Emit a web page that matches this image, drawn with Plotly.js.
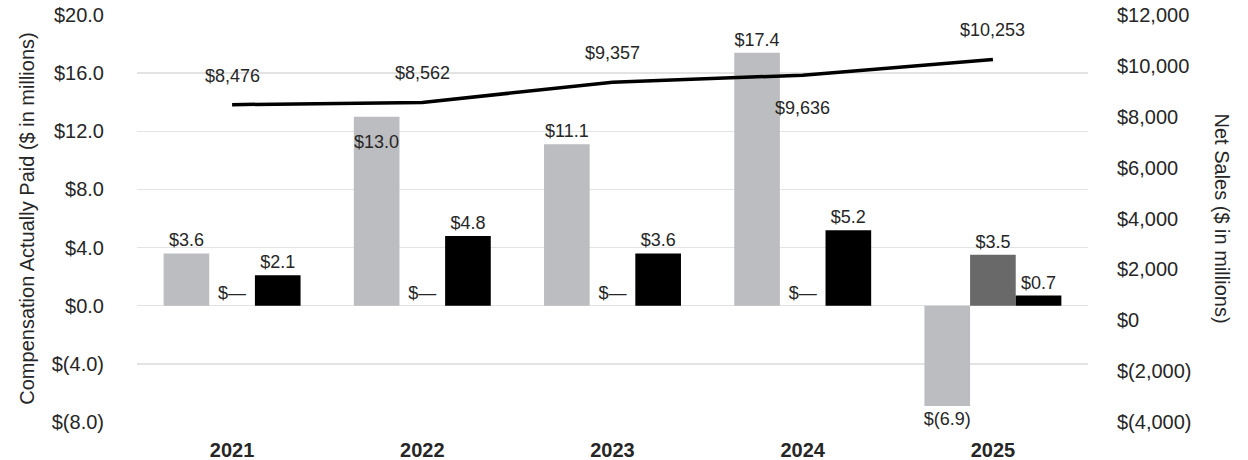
<!DOCTYPE html>
<html>
<head>
<meta charset="utf-8">
<script src="https://cdn.plot.ly/plotly-3.0.1.min.js"></script>
<style>html,body{margin:0;padding:0;background:#fff;}#chart{width:1248px;height:460px;}</style>
</head>
<body>
<div id="chart"></div>
<script>
var years = ['2021', '2022', '2023', '2024', '2025'];
var capPeo1 = [3.6, 13.0, 11.1, 17.4, -6.9];
var capPeo2 = [0, 0, 0, 0, 3.5];
var capNeo = [2.1, 4.8, 3.6, 5.2, 0.7];
var netSales = [8476, 8562, 9357, 9636, 10253];
var netSalesLabelSide = ['above', 'above', 'above', 'below', 'above'];
var peo1LabelInside = [false, true, false, false, false];
var leftTicks = [-8, -4, 0, 4, 8, 12, 16, 20];
var leftTickText = ['$(8.0)', '$(4.0)', '$0.0', '$4.0', '$8.0', '$12.0', '$16.0', '$20.0'];
var rightTicks = [-4000, -2000, 0, 2000, 4000, 6000, 8000, 10000, 12000];
var rightTickText = ['$(4,000)', '$(2,000)', '$0', '$2,000', '$4,000', '$6,000', '$8,000', '$10,000', '$12,000'];

function money(v) {
  if (v === 0) return '$\u2014';
  var s = Math.abs(v).toFixed(1);
  return v < 0 ? '$(' + s + ')' : '$' + s;
}
function salesFmt(v) {
  return '$' + v.toLocaleString('en-US');
}

var txtColor = '#262626';
var fontFam = '"Liberation Sans", Arial, sans-serif';
var labelFont = {family: fontFam, size: 18, color: txtColor};
var bargap = 0.28;
var nSeries = 3;
var barSlot = (1 - bargap) / nSeries;

var traces = [
  {
    type: 'bar', name: 'CAP - PEO 1', x: years, y: capPeo1,
    marker: {color: '#bcbdc0'},
    text: capPeo1.map(function (v, i) { return peo1LabelInside[i] ? '' : money(v); }),
    textposition: 'outside', textangle: 0, constraintext: 'none',
    textfont: labelFont, outsidetextfont: labelFont,
    cliponaxis: false, hoverinfo: 'skip'
  },
  {
    type: 'bar', name: 'CAP - PEO 2', x: years, y: capPeo2,
    marker: {color: '#696969'},
    text: capPeo2.map(money), textposition: 'outside', textangle: 0, constraintext: 'none',
    textfont: labelFont, outsidetextfont: labelFont,
    cliponaxis: false, hoverinfo: 'skip'
  },
  {
    type: 'bar', name: 'Average CAP - Non-PEO NEOs', x: years, y: capNeo,
    marker: {color: '#000000'},
    text: capNeo.map(money), textposition: 'outside', textangle: 0, constraintext: 'none',
    textfont: labelFont, outsidetextfont: labelFont,
    cliponaxis: false, hoverinfo: 'skip'
  },
  {
    type: 'scatter', mode: 'lines', name: 'Net Sales', x: years, y: netSales,
    yaxis: 'y2', line: {color: '#000000', width: 3.5}, hoverinfo: 'skip'
  }
];

var annotations = years.map(function (yr, i) {
  return {
    x: i, y: netSales[i], xref: 'x', yref: 'y2',
    text: salesFmt(netSales[i]), showarrow: false,
    yshift: netSalesLabelSide[i] === 'above' ? 29 : -33,
    font: labelFont
  };
});

// inside-end labels on the first PEO bars (placed a little lower than plotly's default padding)
capPeo1.forEach(function (v, i) {
  if (peo1LabelInside[i]) {
    annotations.push({
      x: i - barSlot, y: v, xref: 'x', yref: 'y',
      text: money(v), showarrow: false, yanchor: 'top', yshift: -13,
      font: labelFont
    });
  }
});

// right axis title reads top-to-bottom
annotations.push({
  xref: 'paper', yref: 'paper', x: 1, y: 0.5, xshift: 134,
  xanchor: 'center', yanchor: 'middle',
  text: 'Net Sales ($ in millions)', textangle: 90, showarrow: false,
  font: {family: fontFam, size: 20, color: txtColor}
});

var layout = {
  width: 1248, height: 460,
  margin: {l: 137, r: 160, t: 15, b: 38},
  paper_bgcolor: '#ffffff', plot_bgcolor: '#ffffff',
  showlegend: false,
  barmode: 'group', bargap: bargap, bargroupgap: 0,
  font: {family: fontFam, color: txtColor},
  xaxis: {
    type: 'category', range: [-0.5, years.length - 0.5],
    showgrid: false, zeroline: false, showline: false,
    ticks: '', ticklabelstandoff: 14,
    tickfont: {family: fontFam, size: 20, color: txtColor, weight: 'bold'}
  },
  yaxis: {
    range: [-8, 20], tickvals: leftTicks, ticktext: leftTickText,
    showgrid: true, gridcolor: '#e3e3e3', gridwidth: 1.5,
    zeroline: false, showline: false, ticks: '', ticklabelstandoff: 32,
    tickfont: {family: fontFam, size: 20, color: txtColor},
    title: {text: 'Compensation Actually Paid ($ in millions)', standoff: 11,
            font: {family: fontFam, size: 20, color: txtColor}}
  },
  yaxis2: {
    overlaying: 'y', side: 'right',
    range: [-4000, 12000], tickvals: rightTicks, ticktext: rightTickText,
    showgrid: false, zeroline: false, showline: false, ticks: '', ticklabelstandoff: 28,
    tickfont: {family: fontFam, size: 20, color: txtColor}
  },
  annotations: annotations
};

Plotly.newPlot('chart', traces, layout, {staticPlot: true, displayModeBar: false});
</script>
</body>
</html>
